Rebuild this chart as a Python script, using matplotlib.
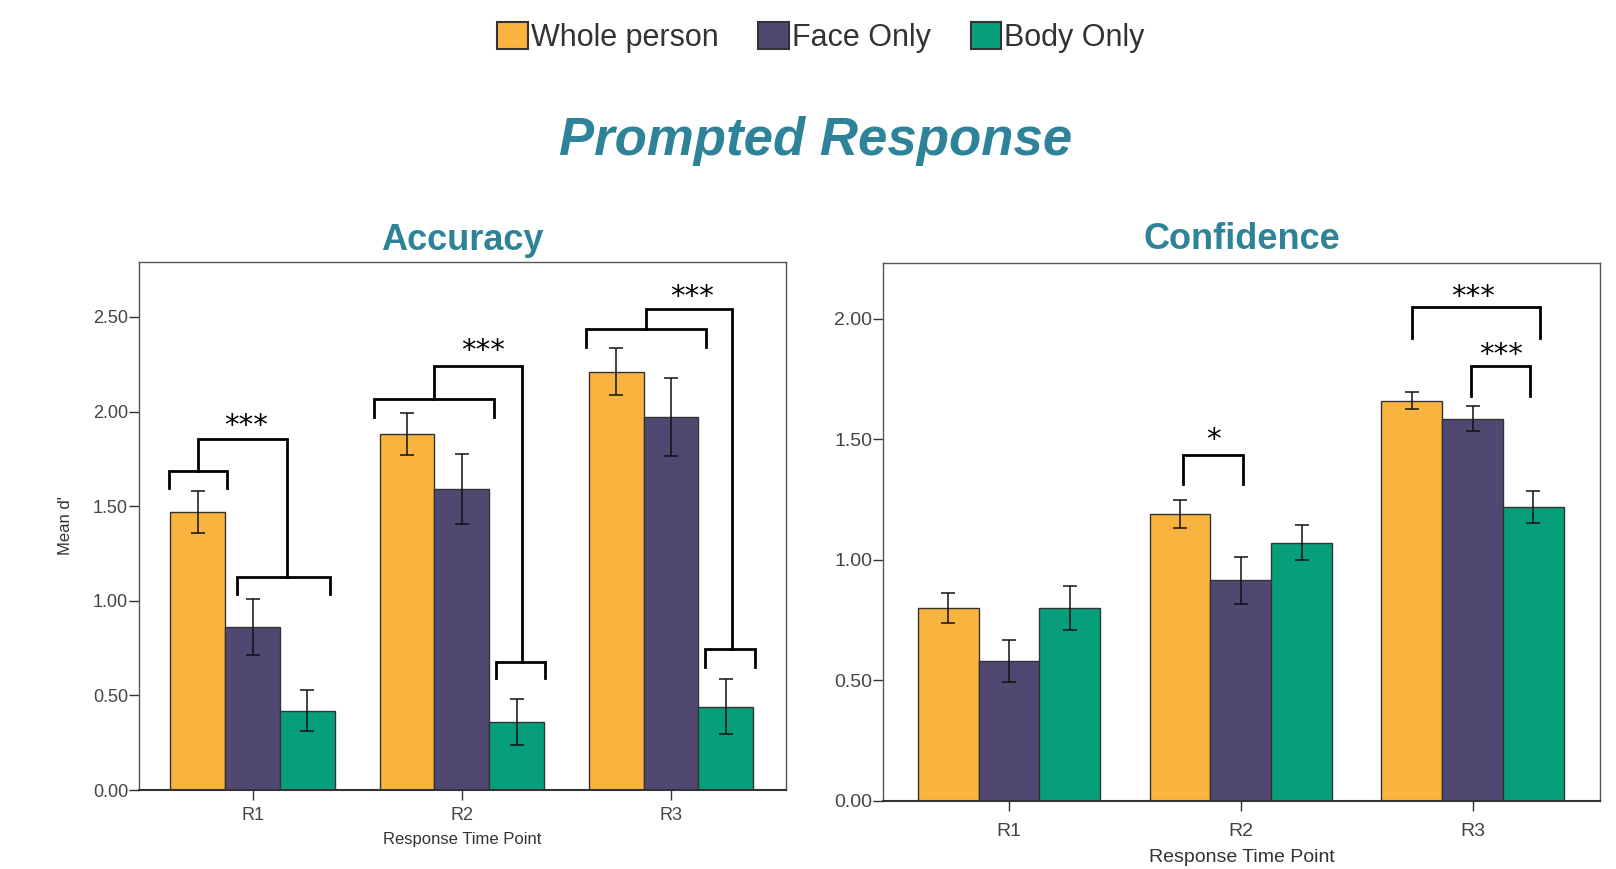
import numpy as np
import matplotlib.pyplot as plt
from matplotlib.patches import Patch

# Data
timepoints = ['R1', 'R2', 'R3']
conditions = ['Whole person', 'Face Only', 'Body Only']
colors = ['#F8B43F', '#514872', '#079E7B']

acc_means = [[1.47, 1.88, 2.21],
             [0.86, 1.59, 1.97],
             [0.42, 0.36, 0.44]]
acc_err = [[0.11, 0.11, 0.125],
           [0.147, 0.185, 0.205],
           [0.11, 0.12, 0.145]]

conf_means = [[0.80, 1.19, 1.66],
              [0.58, 0.915, 1.585],
              [0.80, 1.07, 1.22]]
conf_err = [[0.062, 0.058, 0.034],
            [0.088, 0.098, 0.053],
            [0.09, 0.073, 0.066]]

# significance brackets: (group, x0, x1, y_top, y_leg) in offsets from group centre
acc_brackets = [(0, -0.40, -0.123, 1.685, 1.598), (0, -0.074, 0.369, 1.125, 1.038),
                (1, -0.419, 0.153, 2.065, 1.973), (1, 0.163, 0.399, 0.679, 0.592),
                (2, -0.404, 0.167, 2.435, 2.342), (2, 0.163, 0.404, 0.745, 0.652)]
# connectors: (group, x0, y0, x1, y1, y_top)
acc_links = [(0, -0.261, 1.685, 0.163, 1.125, 1.853),
             (1, -0.133, 2.065, 0.286, 0.679, 2.239),
             (2, -0.118, 2.435, 0.291, 0.745, 2.543)]
acc_stars = [(0, -0.03, 1.85, '***'), (1, 0.10, 2.245, '***'), (2, 0.10, 2.53, '***')]

conf_brackets = [(1, -0.249, 0.009, 1.436, 1.312),
                 (2, -0.262, 0.289, 2.047, 1.919),
                 (2, -0.009, 0.249, 1.803, 1.679)]
conf_stars = [(1, -0.12, 1.44, '*'), (2, 0.0, 2.03, '***'), (2, 0.124, 1.79, '***')]

teal = '#2E8399'
plt.rcParams['font.family'] = ['Liberation Sans', 'DejaVu Sans']

fig = plt.figure(figsize=(16.16, 8.69), dpi=100)
ax1 = fig.add_axes([0.0861, 0.0909, 0.4004, 0.6076])
ax2 = fig.add_axes([0.5466, 0.0783, 0.4437, 0.6190])

width = 0.262
x = np.arange(len(timepoints))


def draw_panel(ax, means, errs, ylim, ticks, tick_fs, label_fs, xpad, labelpad):
    for k in range(3):
        pos = x + (k - 1) * width
        ax.bar(pos, means[k], width, color=colors[k], edgecolor='#333333', linewidth=1.0, zorder=2)
        ax.errorbar(pos, means[k], yerr=errs[k], fmt='none', ecolor='#111111',
                    elinewidth=1.1, capsize=5, capthick=1.1, zorder=3)
    ax.set_xlim(-0.542, 2.551)
    ax.set_ylim(*ylim)
    ax.set_yticks(ticks)
    ax.set_yticklabels([f'{t:.2f}' for t in ticks])
    ax.set_xticks(x)
    ax.set_xticklabels(timepoints)
    ax.tick_params(axis='both', direction='out', length=7, width=1, color='#333333',
                   labelsize=tick_fs, labelcolor='#444444')
    ax.tick_params(axis='y', pad=1)
    ax.tick_params(axis='x', pad=xpad)
    for s in ax.spines.values():
        s.set_color('#555555')
        s.set_linewidth(1.0)
    ax.spines['bottom'].set_color('#333333')
    ax.spines['bottom'].set_linewidth(1.5)
    ax.set_xlabel('Response Time Point', fontsize=label_fs, color='#333333', labelpad=labelpad)


def bracket(ax, g, x0, x1, ytop, yleg):
    ax.plot([g + x0, g + x0, g + x1, g + x1], [yleg, ytop, ytop, yleg],
            color='black', lw=2, solid_joinstyle='miter', zorder=4)


draw_panel(ax1, acc_means, acc_err, (0, 2.79), [0, 0.5, 1.0, 1.5, 2.0, 2.5], 13, 12, 5, 6)
ax1.set_ylabel("Mean d'", fontsize=12, color='#333333', labelpad=14)
for b in acc_brackets:
    bracket(ax1, *b)
for g, x0, y0, x1, y1, yt in acc_links:
    ax1.plot([g + x0, g + x0, g + x1, g + x1], [y0, yt, yt, y1],
             color='black', lw=2, solid_joinstyle='miter', zorder=4)
for g, dx, y, s in acc_stars:
    ax1.text(g + dx, y, s, ha='center', va='bottom', fontsize=21, family='DejaVu Sans')

draw_panel(ax2, conf_means, conf_err, (0, 2.23), [0, 0.5, 1.0, 1.5, 2.0], 14, 14, 9, 6)
for b in conf_brackets:
    bracket(ax2, *b)
for g, dx, y, s in conf_stars:
    ax2.text(g + dx, y, s, ha='center', va='bottom', fontsize=21, family='DejaVu Sans')

ax1.set_title('Accuracy', fontsize=26, fontweight='bold', color=teal, pad=9)
ax2.set_title('Confidence', fontsize=26, fontweight='bold', color=teal, pad=10)

fig.text(0.505, 0.838, 'Prompted Response', fontsize=38, fontweight='bold', style='italic',
         color=teal, ha='center', va='center')

handles = [Patch(facecolor=c, edgecolor='#333333', linewidth=1.5) for c in colors]
fig.legend(handles, conditions, loc='center', bbox_to_anchor=(0.508, 0.957), ncol=3,
           frameon=False, fontsize=22, handlelength=1.0, handleheight=1.0,
           handletextpad=0.1, columnspacing=1.3, labelcolor='#333333')

fig.savefig('out.png', dpi=100)
